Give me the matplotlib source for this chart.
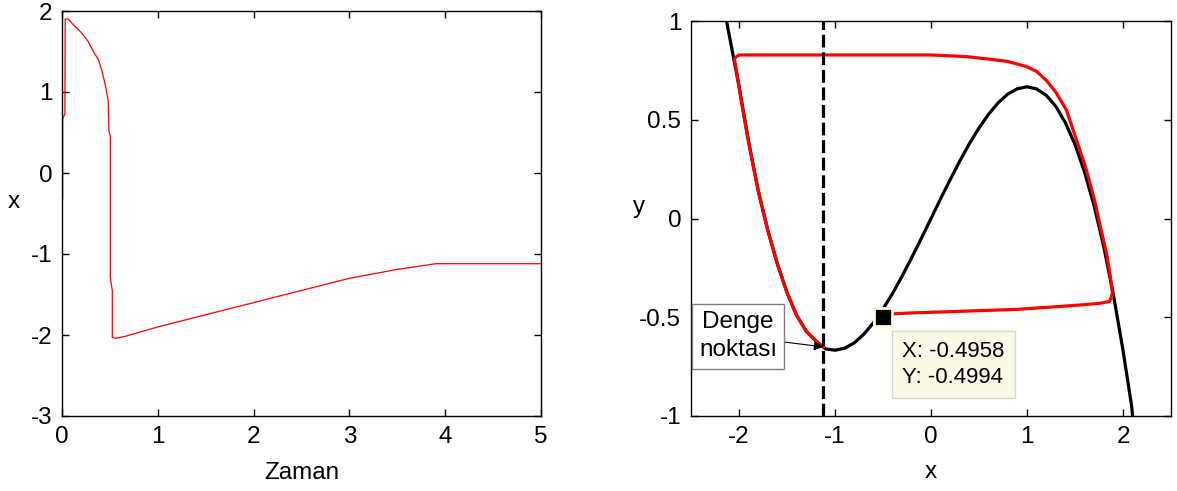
import numpy as np
import matplotlib
matplotlib.use('Agg')
import matplotlib.pyplot as plt

plt.rcParams['font.family'] = ['Liberation Sans', 'DejaVu Sans']
plt.rcParams['axes.unicode_minus'] = False
plt.rcParams['font.size'] = 17.5

# left panel: x(t)
t_vals = [0.0, 0.0, 0.007, 0.007, 0.03, 0.033, 0.066, 0.118, 0.205, 0.275, 0.327,
          0.38, 0.414, 0.44, 0.46, 0.483, 0.49, 0.505, 0.505, 0.525, 0.525, 0.56,
          0.65, 1.0, 1.5, 2.0, 2.5, 3.0, 3.5, 3.9, 5.0]
x_vals = [-0.5, -0.32, -0.32, 0.67, 0.73, 1.9, 1.9, 1.83, 1.73, 1.62, 1.5,
          1.4, 1.27, 1.15, 1.04, 0.88, 0.52, 0.45, -1.3, -1.45, -2.03, -2.04,
          -2.02, -1.9, -1.75, -1.6, -1.45, -1.3, -1.19, -1.12, -1.12]

# right panel: nullcline (black)
nc_x = [-2.13, -2.0, -1.9, -1.8, -1.7, -1.6, -1.5, -1.4, -1.3, -1.2, -1.1, -1.0,
        -0.9, -0.8, -0.7, -0.6, -0.5, -0.4, -0.3, -0.2, -0.1, 0.0, 0.1, 0.2,
        0.3, 0.4, 0.5, 0.6, 0.7, 0.8, 0.9, 1.0, 1.1, 1.2, 1.3, 1.4, 1.5, 1.6,
        1.7, 1.8, 1.9, 2.0, 2.09, 2.1]
nc_y = [1.0, 0.67, 0.39, 0.14, -0.06, -0.23, -0.375, -0.49, -0.57, -0.62, -0.66, -0.667,
        -0.657, -0.63, -0.586, -0.528, -0.458, -0.379, -0.291, -0.197, -0.1, 0.0, 0.1, 0.197,
        0.291, 0.379, 0.458, 0.528, 0.586, 0.63, 0.657, 0.667, 0.656, 0.624, 0.568, 0.485, 0.375, 0.235,
        0.062, -0.144, -0.386, -0.667, -0.95, -1.0]

# trajectory (red)
tr_x = [-0.40, -0.2, 0.0, 0.3, 0.6, 0.9, 1.2, 1.5, 1.75, 1.86, 1.89, 1.87, 1.83, 1.78,
        1.7, 1.61, 1.5, 1.41, 1.3, 1.2, 1.1, 0.99, 0.8, 0.64, 0.36, 0.0, -1.0, -2.0,
        -2.05, -2.03, -1.98, -1.93, -1.86, -1.79, -1.7, -1.6, -1.5, -1.4, -1.3, -1.2, -1.12]
tr_y = [-0.483, -0.478, -0.475, -0.47, -0.465, -0.46, -0.45, -0.44, -0.43, -0.42, -0.38, -0.3, -0.18, -0.075,
        0.1, 0.26, 0.42, 0.55, 0.64, 0.70, 0.745, 0.77, 0.795, 0.805, 0.82, 0.828, 0.828, 0.828,
        0.81, 0.76, 0.607, 0.466, 0.285, 0.122, -0.06, -0.23, -0.375, -0.49, -0.57, -0.62, -0.65]

eq_x, eq_y = -1.12, -0.65
tip_x, tip_y = -0.4958, -0.4994

fig = plt.figure(figsize=(11.77, 4.91), dpi=100)
W, H = 1177., 491.
ax1 = fig.add_axes([62/W, 1-416/H, (541-62)/W, (416-11)/H])
ax2 = fig.add_axes([691/W, 1-416/H, (1171-691)/W, (416-21)/H])

for ax in (ax1, ax2):
    ax.tick_params(direction='in', top=True, right=True, length=5, width=1, pad=7)
    for s in ax.spines.values():
        s.set_linewidth(1.0)

ax1.plot(t_vals, x_vals, color='red', lw=0.9)
ax1.set_xlim(0, 5)
ax1.set_ylim(-3, 2)
ax1.set_xticks([0, 1, 2, 3, 4, 5])
ax1.set_yticks([-3, -2, -1, 0, 1, 2])
ax1.set_xlabel('Zaman', labelpad=10)
ax1.set_ylabel('x', rotation=0)
ax1.yaxis.set_label_coords(-0.10, 0.5)

ax2.plot(nc_x, nc_y, color='black', lw=2.3)
ax2.plot(tr_x, tr_y, color='red', lw=2.3)
ax2.axvline(eq_x, color='black', lw=2.3, dashes=(4, 1.5))
ax2.set_xlim(-2.5, 2.5)
ax2.set_ylim(-1, 1)
ax2.set_xticks([-2, -1, 0, 1, 2])
ax2.set_yticks([-1, -0.5, 0, 0.5, 1])
ax2.set_yticklabels(['-1', '-0.5', '0', '0.5', '1'])
ax2.set_xlabel('x', labelpad=9.5)
ax2.set_ylabel('y', rotation=0)
ax2.yaxis.set_label_coords(-0.108, 0.5)

# data tip
ax2.plot([tip_x], [tip_y], marker='s', ms=13, mfc='black', mec='#fffbd8', mew=2, zorder=5)
ax2.text(-0.30, -0.739, 'X: %.4f\nY: %.4f' % (tip_x, tip_y), fontsize=16,
         ha='left', va='center', linespacing=1.35,
         bbox=dict(boxstyle='square,pad=0.45', fc='#fafae6', ec='#d8d8c8', lw=1), zorder=6)

# equilibrium label
ax2.annotate('Denge\nnoktası', xy=(eq_x, eq_y), xytext=(-2.01, -0.597),
             ha='center', va='center', linespacing=1.35,
             bbox=dict(boxstyle='square,pad=0.3', fc='white', ec='#7f7f7f', lw=1),
             arrowprops=dict(arrowstyle='-|>', color='black', lw=0.8, mutation_scale=14,
                             shrinkA=0, shrinkB=0), zorder=6)

plt.savefig('out.png', dpi=100)
